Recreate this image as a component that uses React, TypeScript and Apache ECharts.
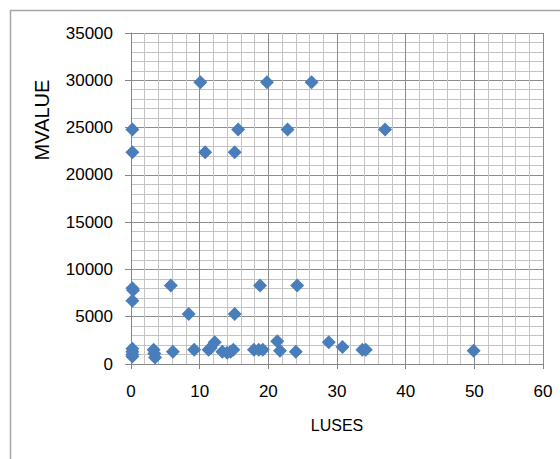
import React, { useEffect, useRef } from "react";
import * as echarts from "echarts";

// LUSES (x) values
const lusesValues: number[] = [
  0.2, 0.2, 10.1, 19.8, 26.3, 15.6, 22.8, 37.0, 10.8, 15.1,
  0.2, 0.3, 0.2, 5.8, 18.8, 24.2, 8.4, 15.1,
  0.2, 0.2, 0.2, 0.2, 3.3, 3.4, 3.5, 6.1, 9.2, 11.3, 12.2, 11.6,
  13.3, 14.0, 14.5, 14.9, 17.9, 18.6, 19.2, 21.3, 21.7, 24.0,
  28.8, 30.8, 33.7, 34.2, 49.9,
];
// MVALUE (y) values
const mvalueValues: number[] = [
  24800, 22400, 29800, 29800, 29800, 24800, 24800, 24800, 22400, 22400,
  8000, 7800, 6700, 8300, 8300, 8300, 5300, 5300,
  1600, 1300, 1000, 800, 1500, 1100, 700, 1300, 1500, 1500, 2300, 1700,
  1300, 1200, 1300, 1500, 1500, 1500, 1500, 2400, 1400, 1300,
  2300, 1800, 1500, 1500, 1400,
];

const xTitle = "LUSES";
const yTitle = "MVALUE";

export default function App() {
  const ref = useRef<HTMLDivElement>(null);
  useEffect(() => {
    if (!ref.current) return;
    const chart = echarts.init(ref.current, undefined, { renderer: "svg" });
    const data = lusesValues.map((x, i) => [x, mvalueValues[i]]);
    const font = "Liberation Sans";
    chart.setOption({
      animation: false,
      backgroundColor: "#ffffff",
      grid: { left: 131, right: 17, top: 33, bottom: 95, containLabel: false },
      xAxis: {
        type: "value",
        min: 0,
        max: 60,
        interval: 10,
        name: xTitle,
        nameLocation: "middle",
        nameGap: 61,
        nameTextStyle: { fontFamily: font, fontSize: 16, color: "#000", verticalAlign: "middle" },
        axisLine: { show: true, onZero: false, lineStyle: { color: "#868686", width: 1 } },
        axisTick: { show: true, length: 5, lineStyle: { color: "#868686" } },
        axisLabel: { margin: 19, fontFamily: font, fontSize: 17, color: "#000", formatter: (v: number) => String(v) },
        splitLine: { show: true, lineStyle: { color: "#8c8c8c", width: 1 } },
        minorTick: { show: false, splitNumber: 5 },
        minorSplitLine: { show: true, lineStyle: { color: "#c4c4c4", width: 1 } },
      },
      yAxis: {
        type: "value",
        min: 0,
        max: 35000,
        interval: 5000,
        axisLine: { show: true, onZero: false, lineStyle: { color: "#868686", width: 1 } },
        axisTick: { show: true, length: 6, lineStyle: { color: "#868686" } },
        axisLabel: { margin: 18, fontFamily: font, fontSize: 17, color: "#000", formatter: (v: number) => String(v) },
        splitLine: { show: true, lineStyle: { color: "#8c8c8c", width: 1 } },
        minorTick: { show: false, splitNumber: 5 },
        minorSplitLine: { show: true, lineStyle: { color: "#c4c4c4", width: 1 } },
      },
      graphic: [
        {
          type: "rect",
          shape: { x: 10.5, y: 10.5, width: 700, height: 700 },
          style: { fill: "none", stroke: "#a6a6a6", lineWidth: 1.5 },
          silent: true,
        },
        {
          type: "text",
          x: 42,
          y: 120,
          rotation: Math.PI / 2,
          style: {
            text: yTitle,
            fontFamily: font,
            fontSize: 20,
            fill: "#000",
            align: "center",
            verticalAlign: "middle",
          },
        },
      ],
      series: [
        {
          type: "scatter",
          symbol: "diamond",
          symbolSize: 14,
          itemStyle: { color: "#4a7ebb", opacity: 1 },
          data,
        },
      ],
    });
    return () => chart.dispose();
  }, []);
  return (
    <div
      ref={ref}
      style={{ position: "fixed", left: 0, top: 0, width: 560, height: 459 }}
    />
  );
}
